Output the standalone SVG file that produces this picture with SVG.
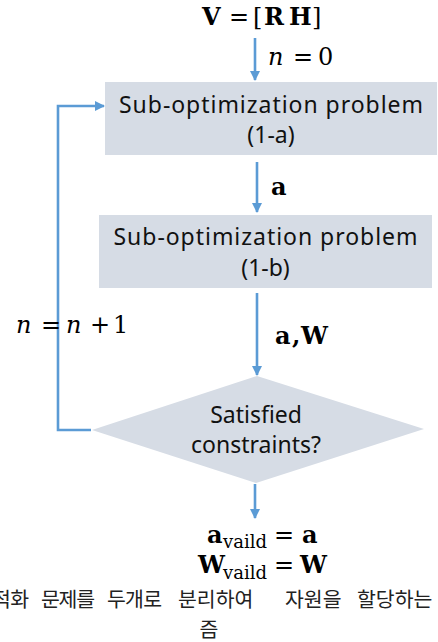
<svg xmlns="http://www.w3.org/2000/svg" width="438" height="642" viewBox="0 0 438 642">
<style>
.node{fill:#D6DCE5;stroke:none}
.lbl{font-family:"Noto Sans","Open Sans",sans-serif;font-size:23px;fill:#111}
.m{font-family:"DejaVu Serif","Liberation Serif",serif;font-size:24px;fill:#000}
.b{font-weight:bold}
.i{font-style:italic}
.sub{font-size:18px;font-weight:normal}
.conn{stroke:#5B9BD5;stroke-width:2.6;fill:none}
.kr{font-family:"Noto Sans CJK KR","Noto Sans",sans-serif;font-size:20.5px;fill:#222}
</style>
<defs>
<marker id="ah" markerUnits="userSpaceOnUse" markerWidth="10" markerHeight="10" viewBox="0 0 10 10" refX="9" refY="5" orient="auto">
<path d="M0,0 L10,5 L0,10 z" fill="#5B9BD5"/>
</marker>
</defs>

<g id="start">
<text class="m b" y="25"><tspan x="202">V</tspan><tspan x="229" font-weight="normal">=</tspan><tspan x="253" font-weight="normal">[</tspan><tspan x="264">R</tspan><tspan x="289">H</tspan><tspan x="312" font-weight="normal">]</tspan></text>
</g>

<g id="box1">
<rect class="node" x="105" y="82" width="332" height="73"/>
<text class="lbl" x="271" y="113" text-anchor="middle" textLength="304" lengthAdjust="spacing">Sub-optimization problem</text>
<text class="lbl" x="271" y="143" text-anchor="middle">(1-a)</text>
</g>

<g id="box2">
<rect class="node" x="99" y="215" width="333" height="73"/>
<text class="lbl" x="265.5" y="245" text-anchor="middle" textLength="304" lengthAdjust="spacing">Sub-optimization problem</text>
<text class="lbl" x="265.5" y="276" text-anchor="middle">(1-b)</text>
</g>

<g id="decision">
<polygon class="node" points="257,376 424,429 256,483 92,430"/>
<text class="lbl" x="256" y="423" text-anchor="middle">Satisfied</text>
<text class="lbl" x="256" y="453" text-anchor="middle">constraints?</text>
</g>

<g id="result">
<text class="m" y="543"><tspan x="207" class="b">a</tspan><tspan x="223" class="sub" dy="5" textLength="44" lengthAdjust="spacingAndGlyphs">vaild</tspan><tspan x="274" dy="-5">=</tspan><tspan x="302" class="b">a</tspan></text>
<text class="m" y="573"><tspan x="198" class="b">W</tspan><tspan x="223" class="sub" dy="6" textLength="44" lengthAdjust="spacingAndGlyphs">vaild</tspan><tspan x="274" dy="-6">=</tspan><tspan x="300" class="b">W</tspan></text>
</g>

<g id="connectors">
<line class="conn" x1="255" y1="38" x2="255" y2="80" marker-end="url(#ah)"/>
<line class="conn" x1="257" y1="162" x2="257" y2="212" marker-end="url(#ah)"/>
<line class="conn" x1="257" y1="293" x2="257" y2="375" marker-end="url(#ah)"/>
<line class="conn" x1="255" y1="484" x2="255" y2="518" marker-end="url(#ah)"/>
<polyline class="conn" points="91,430 58,430 58,106 104,106" marker-end="url(#ah)"/>
</g>

<g id="labels">
<text class="m" y="65"><tspan x="268" class="i">n</tspan><tspan x="293">=</tspan><tspan x="318">0</tspan></text>
<text class="m b" x="271" y="195">a</text>
<text class="m b" y="344"><tspan x="275">a</tspan><tspan x="292">,</tspan><tspan x="301">W</tspan></text>
<text class="m" y="333"><tspan x="16" class="i">n</tspan><tspan x="41">=</tspan><tspan x="66" class="i">n</tspan><tspan x="90">+</tspan><tspan x="113">1</tspan></text>
</g>

<g id="caption">
<text class="kr" y="607"><tspan x="-8" textLength="37" lengthAdjust="spacing">적화</tspan><tspan x="41" textLength="54" lengthAdjust="spacing">문제를</tspan><tspan x="107" textLength="55" lengthAdjust="spacing">두개로</tspan><tspan x="178">분리하여</tspan><tspan x="285">자원을</tspan><tspan x="357">할당하는</tspan></text>
<text class="kr" x="209" y="637" text-anchor="middle">즘</text>
</g>
</svg>
